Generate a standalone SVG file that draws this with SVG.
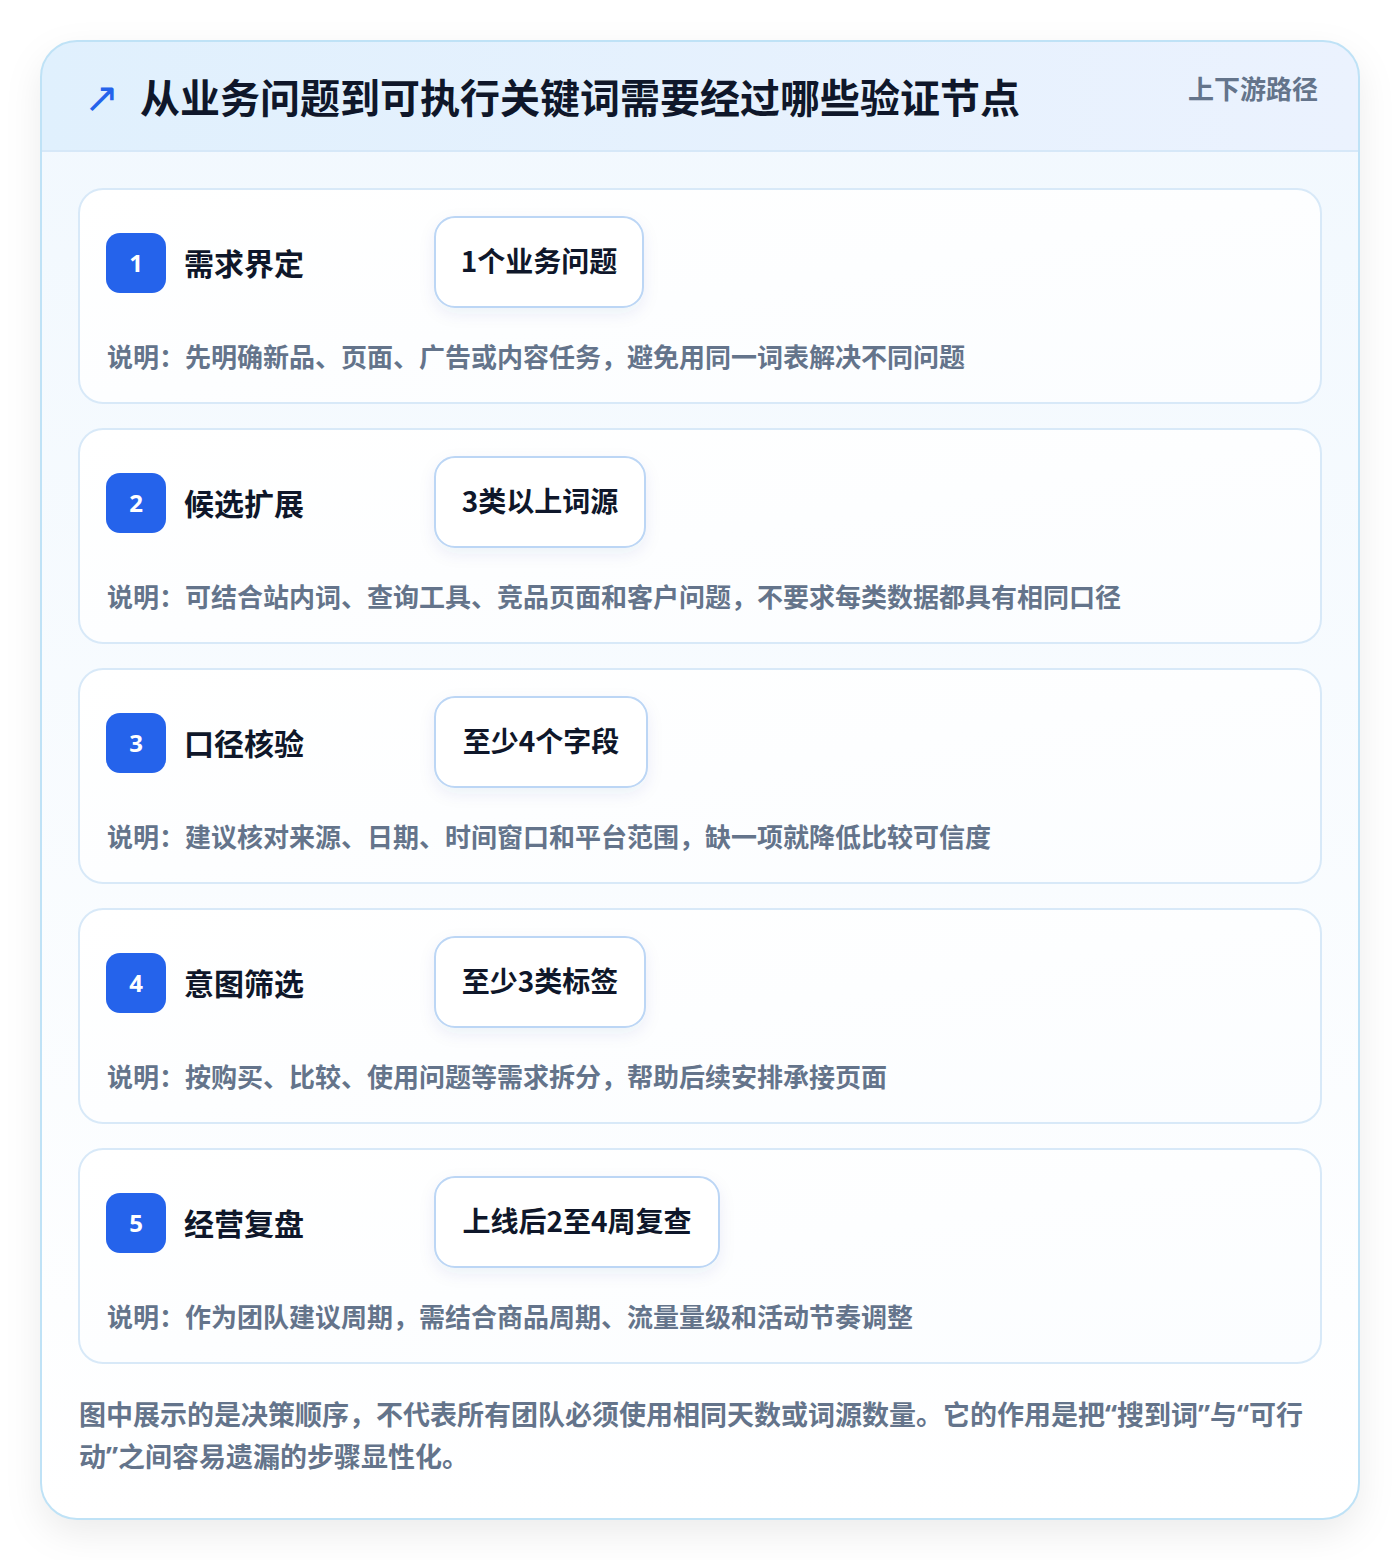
<svg xmlns="http://www.w3.org/2000/svg" width="1400" height="1560" viewBox="0 0 1400 1560">
<defs>
<style>
.t{font-family:"Noto Sans CJK SC","Noto Sans",sans-serif;font-weight:700;dominant-baseline:central}
.title{font-size:40px;fill:#0f172a}
.sub{font-size:26px;fill:#64748b}
.step{font-size:30px;fill:#0f172a}
.pill{font-size:28px;fill:#0f172a}
.desc{font-size:26px;fill:#64748b}
.foot{font-size:27px;fill:#64748b}
.q{font-family:"Noto Sans","Liberation Sans",sans-serif}
.num{font-size:24px;fill:#ffffff;font-family:"Noto Sans","DejaVu Sans",sans-serif;font-weight:700;dominant-baseline:central}
.card{fill:url(#cardg);stroke:#d8e9f8;stroke-width:2}
.badge{fill:#2563eb}
.pb{fill:#ffffff;stroke:#bcd6f5;stroke-width:2;filter:url(#ps)}
</style>
<linearGradient id="hdr" x1="0" y1="0" x2="1" y2="0"><stop offset="0" stop-color="#e0f0fd"/><stop offset="1" stop-color="#ebf2fe"/></linearGradient>
<linearGradient id="body" x1="0" y1="0" x2="0" y2="1"><stop offset="0" stop-color="#f1f8fe"/><stop offset="1" stop-color="#ffffff"/></linearGradient>
<linearGradient id="cardg" x1="0" y1="0" x2="1" y2="1"><stop offset="0" stop-color="#ffffff"/><stop offset="1" stop-color="#fbfdff"/></linearGradient>
<clipPath id="oc"><rect x="41" y="41" width="1318" height="1478" rx="36"/></clipPath>
<filter id="os" x="-10%" y="-10%" width="120%" height="120%"><feDropShadow dx="0" dy="14" stdDeviation="18" flood-color="#0f172a" flood-opacity="0.08"/></filter>
<filter id="ps" x="-20%" y="-30%" width="140%" height="170%"><feDropShadow dx="0" dy="6" stdDeviation="8" flood-color="#1e3a8a" flood-opacity="0.07"/></filter>
</defs>
<rect width="1400" height="1560" fill="#ffffff"/>
<g id="frame">
<rect x="41" y="41" width="1318" height="1478" rx="36" fill="#ffffff" filter="url(#os)"/>
<g clip-path="url(#oc)">
<rect x="41" y="41" width="1318" height="1478" fill="url(#body)"/>
<rect x="41" y="41" width="1318" height="110" fill="url(#hdr)"/>
<line x1="41" y1="151" x2="1359" y2="151" stroke="#d6e8f8" stroke-width="2"/>
</g>
<rect x="41" y="41" width="1318" height="1478" rx="36" fill="none" stroke="#bfe2f6" stroke-width="2"/>
</g>
<g id="header">
<text class="t" x="84" y="97" style="font-size:42px;fill:#2563eb;font-family:'DejaVu Sans',sans-serif;font-weight:400">↗</text>
<text class="t title" x="140" y="96">从业务问题到可执行关键词需要经过哪些验证节点</text>
<text class="t sub" x="1318" y="87" text-anchor="end">上下游路径</text>
</g>
<g id="connectors"></g>
<g id="step1">
<rect class="card" x="79" y="189" width="1242" height="214" rx="24"/>
<rect class="badge" x="106" y="233" width="60" height="60" rx="14"/>
<text class="num" x="136" y="262" text-anchor="middle">1</text>
<text class="t step" x="184" y="262">需求界定</text>
<rect class="pb" x="435" y="217" width="208" height="90" rx="20"/>
<text class="t pill" x="539" y="260" text-anchor="middle">1个业务问题</text>
<text class="t desc" x="107" y="355">说明：先明确新品、页面、广告或内容任务，避免用同一词表解决不同问题</text>
</g>
<g id="step2">
<rect class="card" x="79" y="429" width="1242" height="214" rx="24"/>
<rect class="badge" x="106" y="473" width="60" height="60" rx="14"/>
<text class="num" x="136" y="502" text-anchor="middle">2</text>
<text class="t step" x="184" y="502">候选扩展</text>
<rect class="pb" x="435" y="457" width="210" height="90" rx="20"/>
<text class="t pill" x="540" y="500" text-anchor="middle">3类以上词源</text>
<text class="t desc" x="107" y="595">说明：可结合站内词、查询工具、竞品页面和客户问题，不要求每类数据都具有相同口径</text>
</g>
<g id="step3">
<rect class="card" x="79" y="669" width="1242" height="214" rx="24"/>
<rect class="badge" x="106" y="713" width="60" height="60" rx="14"/>
<text class="num" x="136" y="742" text-anchor="middle">3</text>
<text class="t step" x="184" y="742">口径核验</text>
<rect class="pb" x="435" y="697" width="212" height="90" rx="20"/>
<text class="t pill" x="541" y="740" text-anchor="middle">至少4个字段</text>
<text class="t desc" x="107" y="835">说明：建议核对来源、日期、时间窗口和平台范围，缺一项就降低比较可信度</text>
</g>
<g id="step4">
<rect class="card" x="79" y="909" width="1242" height="214" rx="24"/>
<rect class="badge" x="106" y="953" width="60" height="60" rx="14"/>
<text class="num" x="136" y="982" text-anchor="middle">4</text>
<text class="t step" x="184" y="982">意图筛选</text>
<rect class="pb" x="435" y="937" width="210" height="90" rx="20"/>
<text class="t pill" x="540" y="980" text-anchor="middle">至少3类标签</text>
<text class="t desc" x="107" y="1075">说明：按购买、比较、使用问题等需求拆分，帮助后续安排承接页面</text>
</g>
<g id="step5">
<rect class="card" x="79" y="1149" width="1242" height="214" rx="24"/>
<rect class="badge" x="106" y="1193" width="60" height="60" rx="14"/>
<text class="num" x="136" y="1222" text-anchor="middle">5</text>
<text class="t step" x="184" y="1222">经营复盘</text>
<rect class="pb" x="435" y="1177" width="284" height="90" rx="20"/>
<text class="t pill" x="577" y="1220" text-anchor="middle">上线后2至4周复查</text>
<text class="t desc" x="107" y="1315">说明：作为团队建议周期，需结合商品周期、流量量级和活动节奏调整</text>
</g>
<g id="footer">
<text class="t foot" x="79" y="1413">图中展示的是决策顺序，不代表所有团队必须使用相同天数或词源数量。它的作用是把<tspan class="q">“</tspan>搜到词<tspan class="q">”</tspan>与<tspan class="q">“</tspan>可行</text>
<text class="t foot" x="79" y="1455">动<tspan class="q">”</tspan>之间容易遗漏的步骤显性化。</text>
</g>
</svg>
